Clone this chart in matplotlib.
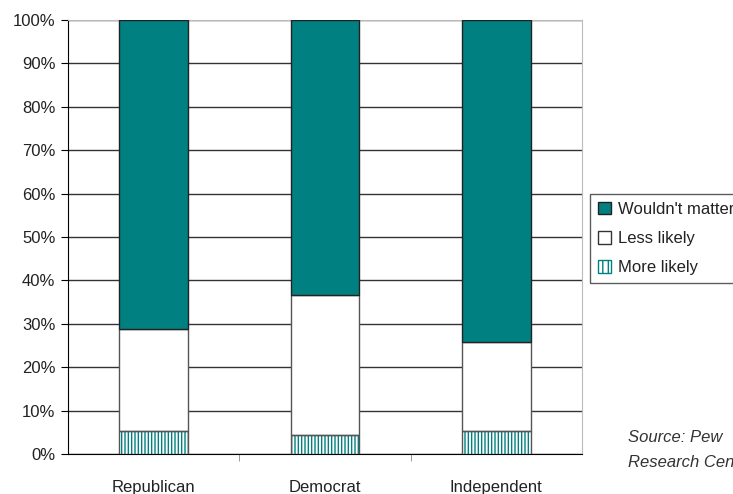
import matplotlib.pyplot as plt
import numpy as np
from matplotlib.patches import Patch

categories = ['Republican', 'Democrat', 'Independent']
more_likely = [5.3, 4.4, 5.2]
less_likely = [23.5, 32.2, 20.7]
wouldnt_matter = [71.2, 63.4, 74.1]

plt.rcParams['font.family'] = ['Liberation Sans Narrow', 'Liberation Sans', 'DejaVu Sans']
plt.rcParams['hatch.linewidth'] = 1.0

teal = '#008080'
fig = plt.figure(figsize=(7.33, 4.94), dpi=100)
ax = fig.add_axes([68 / 733, 40 / 494, 514 / 733, 434 / 494])

x = np.arange(len(categories))
w = 0.4
bottom2 = np.array(more_likely)
bottom3 = bottom2 + np.array(less_likely)

# hatched "more likely" segment, then outline on top
ax.bar(x, more_likely, w, color='white', edgecolor=teal, hatch='|||||', linewidth=0, zorder=3)
ax.bar(x, more_likely, w, fill=False, edgecolor='#555555', linewidth=1, zorder=4)
ax.bar(x, less_likely, w, bottom=bottom2, color='white', edgecolor='#555555', linewidth=1, zorder=3)
ax.bar(x, wouldnt_matter, w, bottom=bottom3, color=teal, edgecolor='#222222', linewidth=1, zorder=3)

ax.set_xlim(-0.5, 2.5)
ax.set_ylim(0, 100)
ax.set_yticks(range(0, 101, 10))
ax.set_yticklabels([f'{v}%' for v in range(0, 101, 10)], fontsize=12, color='#222222')
ax.set_xticks(x)
ax.set_xticklabels(categories, fontsize=12, color='#222222')
ax.set_xticks([0.5, 1.5], minor=True)
ax.tick_params(axis='x', which='major', length=0, pad=19)
ax.tick_params(axis='x', which='minor', length=5, color='#888888', direction='out')
ax.tick_params(axis='y', length=5, direction='out', pad=4)
ax.yaxis.grid(True, color='#333333', linewidth=1)
ax.set_axisbelow(True)
ax.spines['top'].set_color('#bbbbbb')
ax.spines['right'].set_color('#bbbbbb')
ax.spines['left'].set_color('black')
ax.spines['bottom'].set_color('black')

handles = [
    Patch(facecolor=teal, edgecolor='#222222', label="Wouldn't matter"),
    Patch(facecolor='white', edgecolor='#333333', label='Less likely'),
    Patch(facecolor='white', edgecolor=teal, hatch='|||', label='More likely'),
]
leg = fig.legend(handles=handles, loc='upper left', bbox_to_anchor=(590 / 733, 1 - 194 / 494),
                 fontsize=12, frameon=True, fancybox=False, edgecolor='#333333',
                 handlelength=0.8, handleheight=0.8, handletextpad=0.4, labelspacing=0.85,
                 borderpad=0.45, borderaxespad=0)
for t in leg.get_texts():
    t.set_color('#222222')

fig.text(628 / 733, 1 - 437 / 494, 'Source: Pew', fontsize=12, style='italic', color='#333333', va='center')
fig.text(628 / 733, 1 - 462 / 494, 'Research Center', fontsize=12, style='italic', color='#333333', va='center')

fig.savefig('out.png', dpi=100)
